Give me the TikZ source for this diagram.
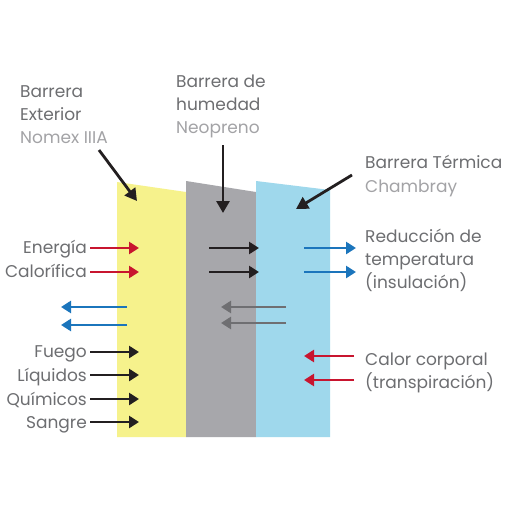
\documentclass[tikz,border=0pt]{standalone}
\usepackage{fontspec}
\setmainfont{Poppins}
\usetikzlibrary{arrows.meta}
\definecolor{yel}{HTML}{F6F28C}
\definecolor{gry}{HTML}{A7A7AB}
\definecolor{sky}{HTML}{9FD8EC}
\definecolor{ared}{HTML}{C8152F}
\definecolor{ablue}{HTML}{1B75BC}
\definecolor{agray}{HTML}{6F6F72}
\definecolor{ablack}{HTML}{231F20}
\definecolor{tdark}{HTML}{6D6E71}
\definecolor{tlight}{HTML}{A3A3A6}
\tikzset{
  lbl/.style={inner sep=0pt, font=\fontsize{17}{20}\selectfont, text=tdark},
  lbllight/.style={lbl, text=tlight},
  arr/.style={line width=2.6pt, -{Triangle[length=10pt,width=12pt]}},
  ptr/.style={line width=2.8pt, ablack, -{Triangle[length=12pt,width=13pt]}},
}
\begin{document}
\begin{tikzpicture}[x=1pt,y=-1pt]
\useasboundingbox (0,0) rectangle (509,509);
\fill[white] (0,0) rectangle (509,509);
% panels
\fill[yel] (117,182) -- (186,192) -- (186,437) -- (117,437) -- cycle;
\fill[gry] (186,181) -- (256,192) -- (256,437) -- (186,437) -- cycle;
\fill[sky] (256,181) -- (330,190) -- (330,437) -- (256,437) -- cycle;
% top labels
\node[lbl, anchor=base west] (b1) at (20,97) {Barrera};
\node[lbl, anchor=base west] (b2) at (20,120) {Exterior};
\node[lbllight, anchor=base west] (b3) at (20,143) {Nomex IIIA};
\node[lbl, anchor=base west] (m1) at (176,87) {Barrera de};
\node[lbl, anchor=base west] (m2) at (176,110) {humedad};
\node[lbllight, anchor=base west] (m3) at (176,133) {Neopreno};
\node[lbl, anchor=base west] (r1) at (365,168) {Barrera Térmica};
\node[lbllight, anchor=base west] (r2) at (365,192) {Chambray};
% right labels
\node[lbl, anchor=base west] (t1) at (365,242) {Reducción de};
\node[lbl, anchor=base west] (t2) at (365,265) {temperatura};
\node[lbl, anchor=base west] (t3) at (365,288) {(insulación)};
\node[lbl, anchor=base west] (c1) at (365,365) {Calor corporal};
\node[lbl, anchor=base west] (c2) at (365,388) {(transpiración)};
% left labels
\node[lbl, anchor=base east] (e1) at (87,253) {Energía};
\node[lbl, anchor=base east] (e2) at (87,277) {Calorífica};
\node[lbl, anchor=base east] (f1) at (87,357) {Fuego};
\node[lbl, anchor=base east] (f2) at (87,381) {Líquidos};
\node[lbl, anchor=base east] (f3) at (87,405) {Químicos};
\node[lbl, anchor=base east] (f4) at (87,428) {Sangre};
% pointer arrows
\coordinate (p1s) at (99,150); \coordinate (p1e) at (137,201);
\coordinate (p2s) at (223,145); \coordinate (p2e) at (223,213);
\coordinate (p3s) at (352,175); \coordinate (p3e) at (296,209);
\draw[ptr] (p1s) -- (p1e);
\draw[ptr] (p2s) -- (p2e);
\draw[ptr] (p3s) -- (p3e);
% left red
\coordinate (ra1) at (90,248); \coordinate (ra1e) at (139,248);
\coordinate (ra2) at (90,272); \coordinate (ra2e) at (139,272);
\draw[arr, ared] (ra1) -- (ra1e);
\draw[arr, ared] (ra2) -- (ra2e);
% left blue outgoing
\coordinate (bl1) at (127,307); \coordinate (bl1e) at (61,307);
\coordinate (bl2) at (127,325); \coordinate (bl2e) at (61,325);
\draw[arr, ablue] (bl1) -- (bl1e);
\draw[arr, ablue] (bl2) -- (bl2e);
% left black
\foreach \y/\n in {352/k1,375/k2,399/k3,422/k4}{
  \coordinate (\n) at (90,\y); \coordinate (\n e) at (139,\y);
  \draw[arr, ablack] (\n) -- (\n e);
}
% gray panel black arrows
\coordinate (g1) at (209,248); \coordinate (g1e) at (259,248);
\coordinate (g2) at (209,272); \coordinate (g2e) at (259,272);
\draw[arr, ablack] (g1) -- (g1e);
\draw[arr, ablack] (g2) -- (g2e);
% gray arrows leftward
\coordinate (h1) at (286,307); \coordinate (h1e) at (221,307);
\coordinate (h2) at (286,323); \coordinate (h2e) at (221,323);
\draw[arr, agray] (h1) -- (h1e);
\draw[arr, agray] (h2) -- (h2e);
% blue right arrows
\coordinate (u1) at (304,248); \coordinate (u1e) at (356,248);
\coordinate (u2) at (304,272); \coordinate (u2e) at (356,272);
\draw[arr, ablue] (u1) -- (u1e);
\draw[arr, ablue] (u2) -- (u2e);
% red incoming from right
\coordinate (v1) at (354,356); \coordinate (v1e) at (304,356);
\coordinate (v2) at (354,380); \coordinate (v2e) at (304,380);
\draw[arr, ared] (v1) -- (v1e);
\draw[arr, ared] (v2) -- (v2e);
\end{tikzpicture}
\end{document}
